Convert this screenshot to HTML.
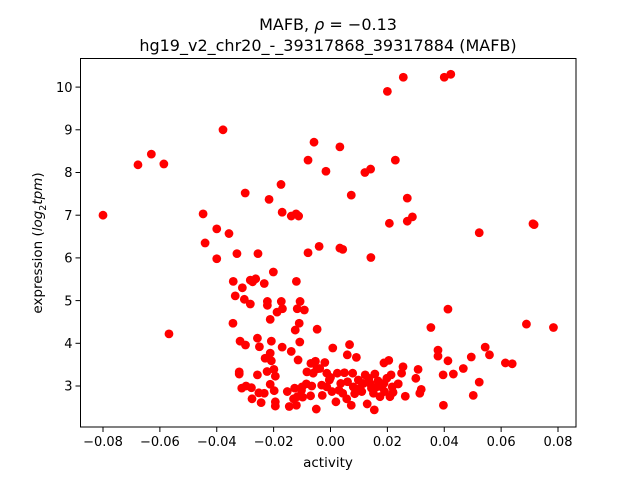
<!DOCTYPE html>
<html><head><meta charset="utf-8"><style>
html,body{margin:0;padding:0;background:#fff;}
svg{display:block;font-family:"DejaVu Sans","Liberation Sans",sans-serif;}
</style></head><body>
<svg id="chart" width="640" height="480" viewBox="0 0 640 480" xmlns="http://www.w3.org/2000/svg">
<rect width="640" height="480" fill="#fff"/>
<text x="328" y="30" font-size="16" text-anchor="middle">MAFB, <tspan font-style="italic">ρ</tspan> = −0.13</text>
<text x="328" y="51" font-size="16" text-anchor="middle">hg19_v2_chr20_-_39317868_39317884 (MAFB)</text>
<g id="points"></g>
<g id="axes"></g>
<text x="328" y="467" font-size="13.5" text-anchor="middle">activity</text>
<text transform="translate(42,243) rotate(-90)" font-size="13.5" text-anchor="middle">expression (<tspan font-style="italic">log</tspan><tspan font-size="9.5" dy="4">2</tspan><tspan font-style="italic" dy="-4">tpm</tspan>)</text>
</svg>
<script>
const xTicks = [-0.08,-0.06,-0.04,-0.02,0.00,0.02,0.04,0.06,0.08];
const xTickLabels = ["−0.08","−0.06","−0.04","−0.02","0.00","0.02","0.04","0.06","0.08"];
const yTicks = [3,4,5,6,7,8,9,10];
const yTickLabels = ["3","4","5","6","7","8","9","10"];
const activity = [-0.080,-0.0677,-0.063,-0.0586,-0.0568,-0.0378,-0.0448,-0.0441,-0.040,-0.040,-0.0357,-0.0329,-0.030,-0.0255,-0.0216,-0.0174,-0.017,-0.0138,-0.0121,-0.0112,-0.0079,-0.0058,-0.0016,0.0033,0.0073,0.0121,0.0141,0.020,0.0256,0.0228,0.027,0.0207,0.027,0.0288,0.040,0.0423,0.0523,0.0716,0.0712,-0.0079,-0.004,0.0033,0.0043,0.0142,0.0353,0.0413,0.0689,0.0784,0.0378,0.0378,0.0413,0.0396,0.0432,0.0467,0.0495,0.0544,0.0559,0.0615,0.0639,0.0523,0.0502,0.0397,0.0308,0.030,0.0314,0.0319,0.0255,0.025,0.0238,0.0263,0.0205,0.0188,-0.0342,-0.031,-0.0335,-0.0303,-0.0282,-0.0282,-0.0274,-0.0263,-0.0233,-0.0201,-0.0343,-0.0222,-0.0222,-0.0173,-0.0169,-0.0188,-0.0212,-0.0107,-0.0117,-0.0092,-0.012,-0.011,-0.0124,-0.0047,-0.0318,-0.0299,-0.0257,-0.025,-0.0208,-0.017,-0.0138,-0.0108,-0.0212,-0.023,-0.0208,-0.0114,0.0008,0.0067,0.0059,0.0091,-0.0321,-0.0321,-0.0257,-0.0223,-0.0199,-0.0194,-0.0083,-0.0069,-0.0053,-0.002,-0.0038,-0.0312,-0.0297,-0.0278,-0.0276,-0.0244,-0.0252,-0.0233,-0.0212,-0.0198,-0.0194,-0.0194,-0.0152,-0.0145,-0.0126,-0.0117,-0.010,-0.0098,-0.007,-0.0066,-0.005,-0.0029,-0.0031,-0.0013,-0.0004,0.0005,0.0019,0.0024,0.0036,0.0043,0.0049,0.0057,0.0073,0.0078,0.008,0.0098,0.011,0.0122,0.0129,0.0139,0.0151,0.0154,0.0162,0.0174,0.0188,0.0198,0.0209,0.0217,0.0213,0.0238,0.0116,0.0135,0.0144,0.0167,0.0156,0.0,0.003,0.006,-0.0013,-0.0061,-0.0048,-0.0085,-0.0102,-0.013,-0.012,0.018,0.019,0.022,0.0085,0.0104];
const expression = [7.0,8.18,8.43,8.2,4.22,9.0,7.03,6.35,5.98,6.68,6.57,6.1,7.52,6.1,7.37,7.72,7.07,6.98,7.03,6.98,8.29,8.71,8.03,8.6,7.47,8.0,8.08,9.9,10.23,8.29,7.4,6.81,6.86,6.96,10.23,10.3,6.59,6.78,6.8,6.12,6.27,6.23,6.2,6.01,4.37,4.8,4.45,4.37,3.84,3.7,3.59,3.26,3.28,3.41,3.68,3.91,3.73,3.54,3.52,3.09,2.78,2.55,3.39,3.18,2.83,2.92,3.45,3.3,3.05,2.76,3.6,3.54,5.45,5.3,5.11,5.03,4.92,5.48,5.44,5.51,5.4,5.67,4.47,4.98,4.89,4.98,4.81,4.73,4.56,4.98,4.81,4.78,5.45,4.47,4.31,4.33,4.05,3.96,4.12,3.92,4.05,3.91,3.81,4.03,3.77,3.65,3.59,3.61,3.89,3.97,3.73,3.67,3.33,3.28,3.26,3.34,3.39,3.23,3.33,3.53,3.58,3.55,3.41,2.95,3.0,2.96,2.7,2.61,2.84,2.83,3.04,2.89,2.63,2.53,2.87,2.52,2.95,2.75,2.98,2.74,2.77,3.0,2.46,2.78,3.02,3.3,3.14,2.87,2.63,3.3,3.06,2.83,3.31,2.7,2.55,3.3,2.98,3.14,2.87,3.26,2.58,3.06,2.83,2.44,2.98,2.75,3.06,3.18,2.75,2.98,3.26,3.05,3.06,3.18,2.95,3.12,3.28,3.2,2.9,3.1,2.98,3.3,3.4,3.05,2.9,2.7,2.55,2.98,2.87,2.85,2.82,2.95];

const NS = "http://www.w3.org/2000/svg";
const L = 80.5, R = 576, T = 58.5, B = 427;
function xScale(v){ return 330.5 + v / 0.02 * 56.875; }
function yScale(v){ return 386 - (v - 3) * 42.7; }

const pg = document.getElementById('points');
for (let i = 0; i < activity.length; i++) {
  const c = document.createElementNS(NS, 'circle');
  c.setAttribute('cx', xScale(activity[i]));
  c.setAttribute('cy', yScale(expression[i]));
  c.setAttribute('r', 4.4);
  c.setAttribute('fill', '#ff0000');
  
  
  pg.appendChild(c);
}

const ax = document.getElementById('axes');
const frame = document.createElementNS(NS, 'rect');
frame.setAttribute('x', L); frame.setAttribute('y', T);
frame.setAttribute('width', R - L); frame.setAttribute('height', B - T);
frame.setAttribute('fill', 'none'); frame.setAttribute('stroke', '#000'); frame.setAttribute('stroke-width', '1');


ax.appendChild(frame);

xTicks.forEach((v, i) => {
  const x = xScale(v);
  const t = document.createElementNS(NS, 'line');
  t.setAttribute('x1', x); t.setAttribute('x2', x); t.setAttribute('y1', B); t.setAttribute('y2', B + 5);
  t.setAttribute('stroke', '#000');
  
  
  ax.appendChild(t);
  const lb = document.createElementNS(NS, 'text');
  lb.setAttribute('x', x); lb.setAttribute('y', B + 19);
  lb.setAttribute('font-size', '13'); lb.setAttribute('text-anchor', 'middle');
  lb.textContent = xTickLabels[i];
  
  
  ax.appendChild(lb);
});
yTicks.forEach((v, i) => {
  const y = yScale(v);
  const t = document.createElementNS(NS, 'line');
  t.setAttribute('x1', L - 5); t.setAttribute('x2', L); t.setAttribute('y1', y); t.setAttribute('y2', y);
  t.setAttribute('stroke', '#000');
  
  
  ax.appendChild(t);
  const lb = document.createElementNS(NS, 'text');
  lb.setAttribute('x', L - 8); lb.setAttribute('y', y + 4.7);
  lb.setAttribute('font-size', '13'); lb.setAttribute('text-anchor', 'end');
  lb.textContent = yTickLabels[i];
  
  
  ax.appendChild(lb);
});
</script>
</body></html>
